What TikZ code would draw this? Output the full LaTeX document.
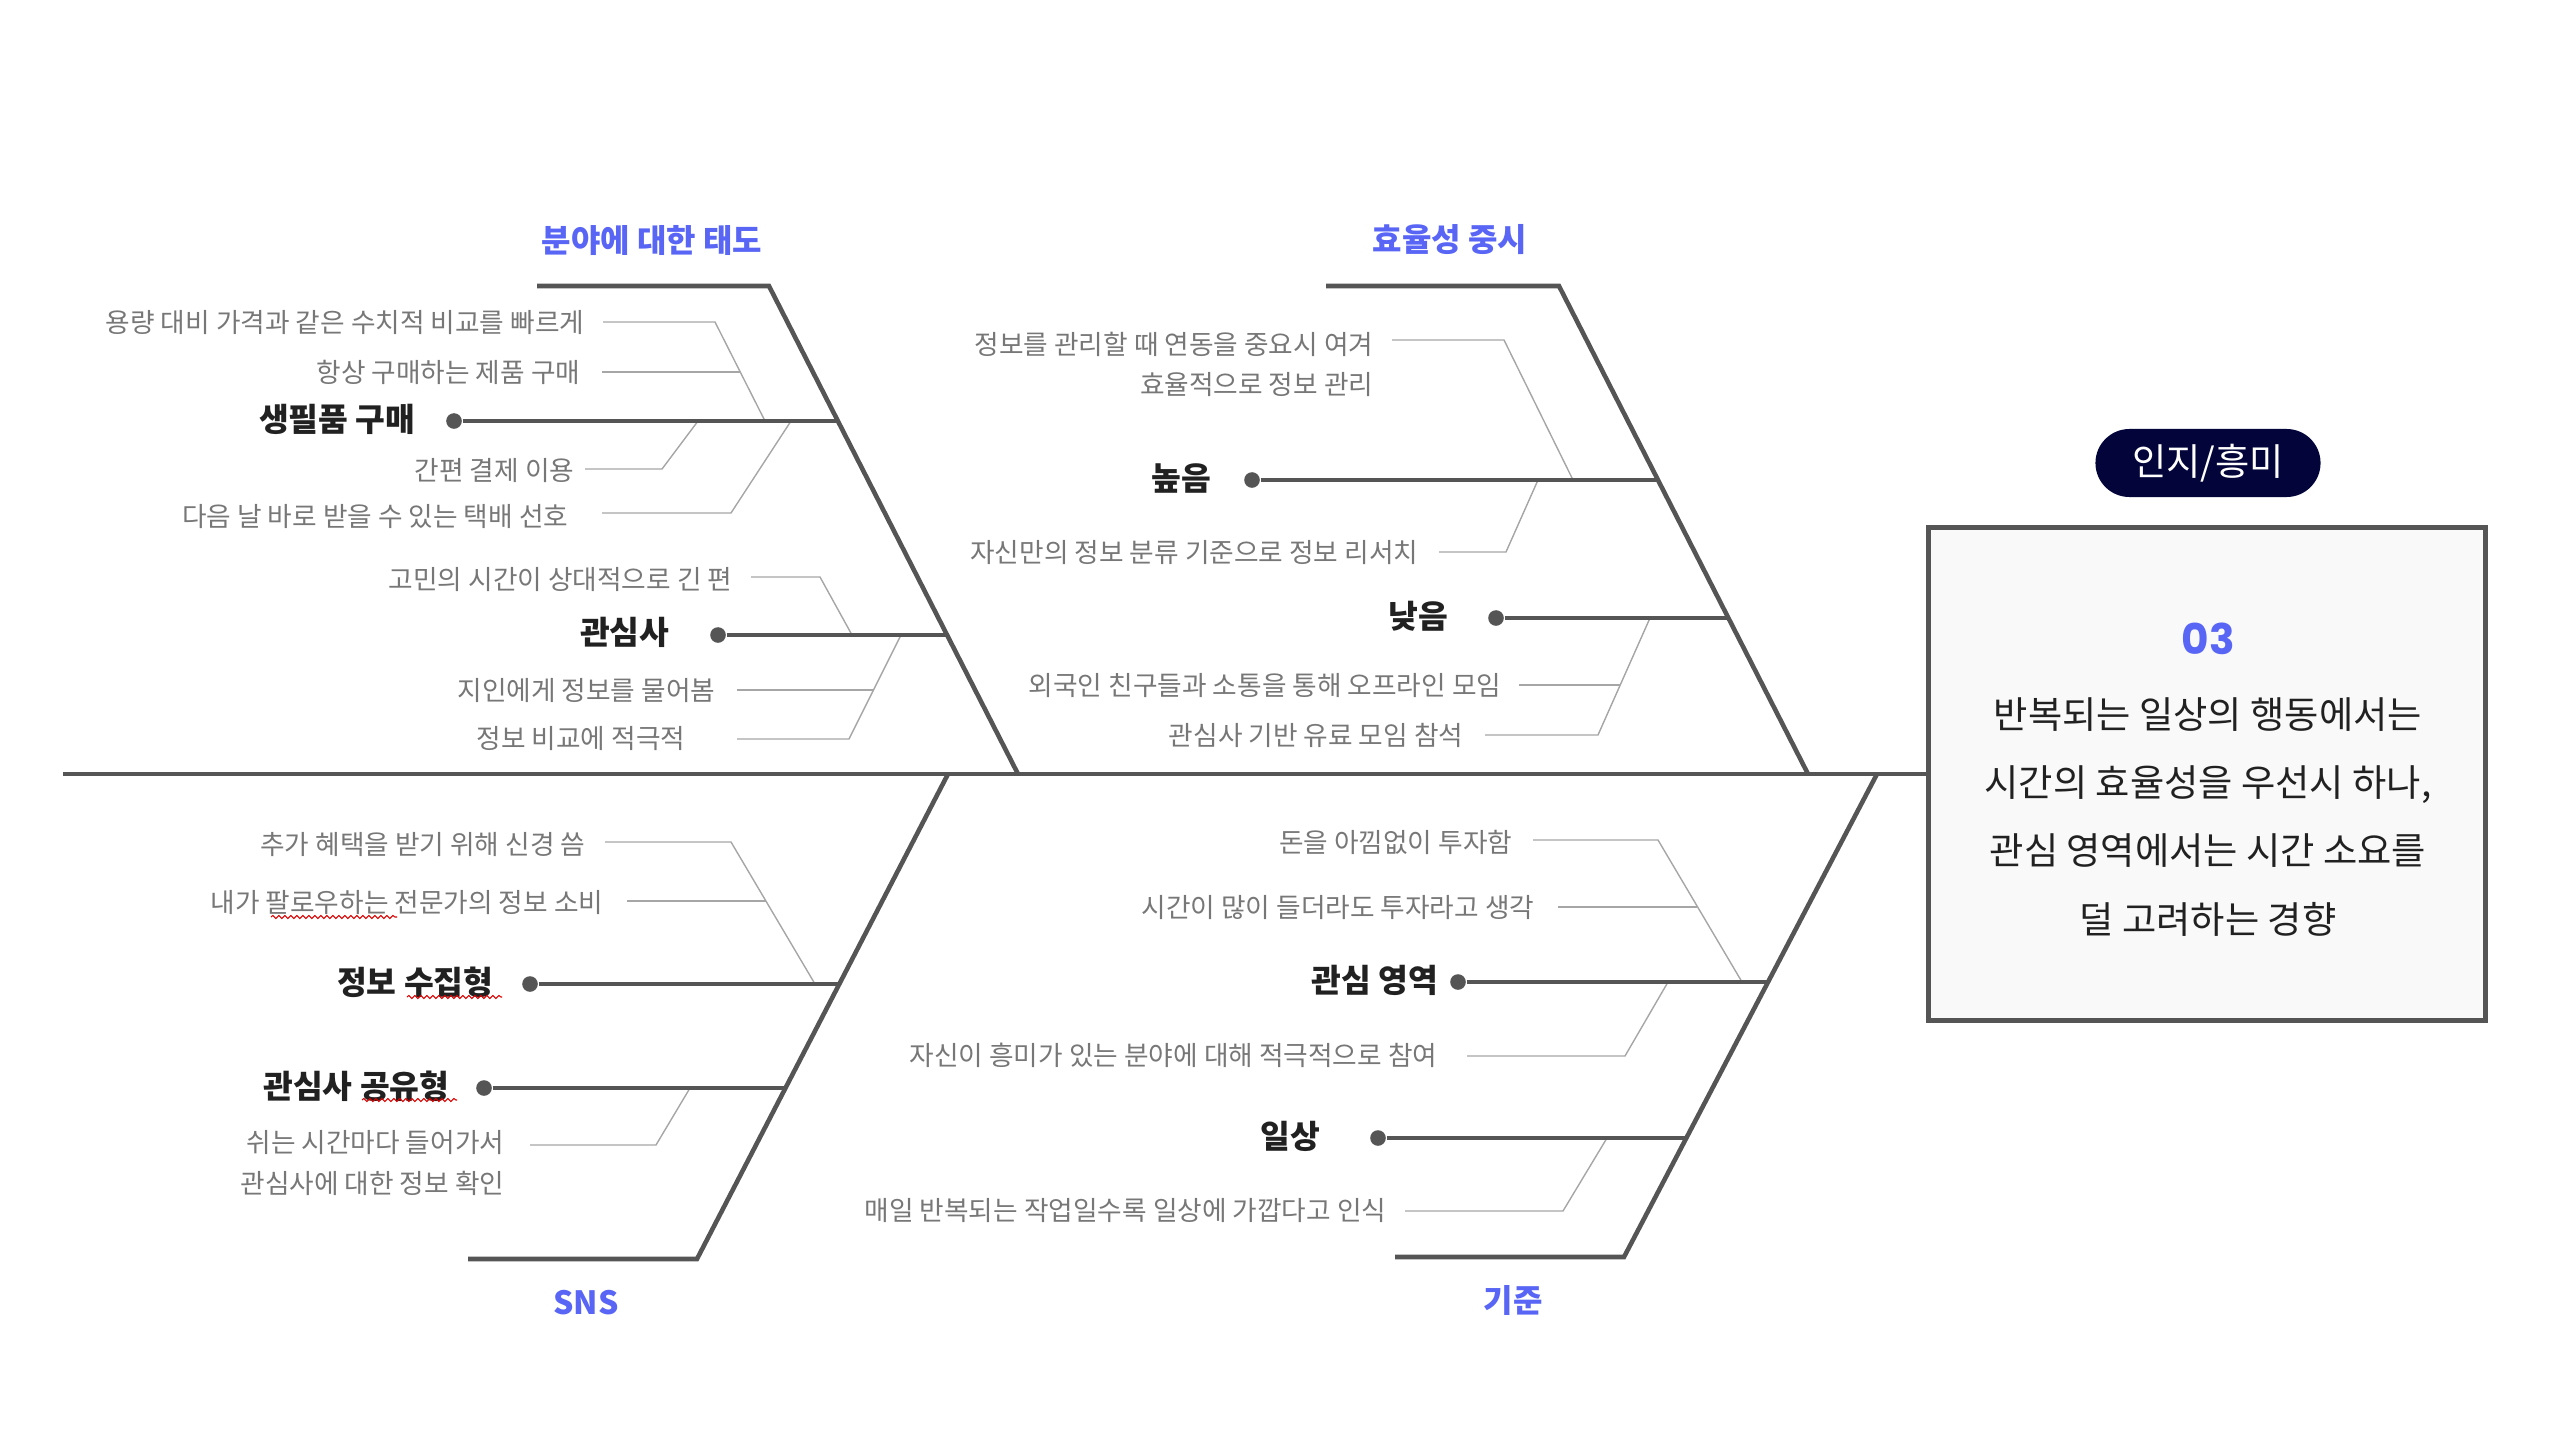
\documentclass[tikz,border=0pt]{standalone}
\usepackage{fontspec}
\setmainfont{Noto Sans CJK KR}
\newfontfamily\numfont{Poppins}
\usetikzlibrary{positioning,decorations.pathmorphing}
\definecolor{bonegray}{HTML}{555555}
\definecolor{leafgray}{HTML}{777777}
\definecolor{leadgray}{HTML}{A6A6A6}
\definecolor{headblue}{HTML}{5865F5}
\definecolor{badgenavy}{HTML}{03053A}
\definecolor{boxfill}{HTML}{F9F9F9}
\begin{document}
\begin{tikzpicture}[x=0.01cm, y=-0.01cm,
    bone/.style = {draw=bonegray, line width=1.3pt},
    leader/.style = {draw=leadgray, line width=0.4pt},
    leaf/.style = {inner sep=0, anchor=east, align=right, text=leafgray, font=\fontsize{7.6}{11.4}\selectfont},
    cause/.style = {inner sep=0, anchor=east, text=black!87, font=\fontsize{9.2}{11}\selectfont\bfseries},
    head/.style = {inner sep=0, text=headblue, font=\fontsize{9.1}{11}\selectfont\bfseries},
    dot/.style = {circle, fill=bonegray, inner sep=0, minimum size=1.56mm},
    squiggle/.style = {draw=red!85!black, line width=0.3pt, decorate, decoration={snake, segment length=0.6mm, amplitude=0.15mm}}]
\useasboundingbox (0,0) rectangle (2550,1430);

\node[draw=bonegray, line width=1.4pt, fill=boxfill, minimum width=5.57cm, minimum height=4.92cm] (summary) at (2207,774) {};
\node[fill=badgenavy, text=white, rounded corners=3.4mm, minimum width=2.25cm, minimum height=6.8mm, font=\fontsize{10.6}{13}\selectfont] (stage) at (2208,463) {인지/흥미};
\node[text=headblue, inner sep=0, font=\numfont\fontsize{12}{14}\selectfont\bfseries] (num) at (2208,639) {03};
\node[align=center, inner sep=0, text=black!87, font=\fontsize{10.6}{19.35}\selectfont] (note) at (2208,817) {반복되는 일상의 행동에서는\\시간의 효율성을 우선시 하나,\\관심 영역에서는 시간 소요를\\덜 고려하는 경향};

\coordinate (tail) at (63,774);
\draw[bone] (tail) -- (summary.west);

\coordinate (attTop) at (537,286); \coordinate (attBend) at (769,286); \coordinate (attFoot) at (1018,774);
\coordinate (effTop) at (1326,286); \coordinate (effBend) at (1559,286); \coordinate (effFoot) at (1808,774);
\coordinate (snsFoot) at (948,774); \coordinate (snsBend) at (697,1259); \coordinate (snsEnd) at (468,1259);
\coordinate (stdFoot) at (1877,774); \coordinate (stdBend) at (1624,1257); \coordinate (stdEnd) at (1395,1257);
\node[head] (attTitle) at (652,240) {분야에 대한 태도};
\node[head] (effTitle) at (1450,240) {효율성 중시};
\node[head] (snsTitle) at (586,1303) {SNS};
\node[head] (stdTitle) at (1513,1300) {기준};

\node[dot] (buyDot) at (454,421) {};
\node[cause] (buy) at (416,419) {생필품 구매};
\node[leaf] (buyA) at (585,323) {용량 대비 가격과 같은 수치적 비교를 빠르게};
\node[leaf] (buyB) at (581,372) {항상 구매하는 제품 구매};
\node[leaf] (buyC) at (575,470) {간편 결제 이용};
\node[leaf] (buyD) at (569,516) {다음 날 바로 받을 수 있는 택배 선호};
\coordinate (buyJoint) at (838,421);
\coordinate (buyA1) at (603,322); \coordinate (buyA2) at (715,322); \coordinate (buyA3) at (765,421);
\coordinate (buyB1) at (602,372); \coordinate (buyB2) at (740,372);
\coordinate (buyC1) at (585,469); \coordinate (buyC2) at (662,469); \coordinate (buyC3) at (698,421);
\coordinate (buyD1) at (602,513); \coordinate (buyD2) at (731,513); \coordinate (buyD3) at (791,421);
\draw[leader] (buyA1) -- (buyA2) -- (buyA3);
\draw[leader] (buyB1) -- (buyB2);
\draw[leader] (buyC1) -- (buyC2) -- (buyC3);
\draw[leader] (buyD1) -- (buyD2) -- (buyD3);
\draw[bone] (buyDot) -- (buyJoint);

\node[dot] (hobDot) at (718,635) {};
\node[cause] (hob) at (670,632) {관심사};
\node[leaf] (hobA) at (733,579) {고민의 시간이 상대적으로 긴 편};
\node[leaf] (hobB) at (716,690) {지인에게 정보를 물어봄};
\node[leaf] (hobC) at (686,739) {정보 비교에 적극적};
\coordinate (hobJoint) at (947,635);
\coordinate (hobA1) at (751,577); \coordinate (hobA2) at (820,577); \coordinate (hobA3) at (852,635);
\coordinate (hobB1) at (737,690); \coordinate (hobB2) at (873,690);
\coordinate (hobC1) at (737,739); \coordinate (hobC2) at (849,739); \coordinate (hobC3) at (901,635);
\draw[leader] (hobA1) -- (hobA2) -- (hobA3);
\draw[leader] (hobB1) -- (hobB2);
\draw[leader] (hobC1) -- (hobC2) -- (hobC3);
\draw[bone] (hobDot) -- (hobJoint);

\node[dot] (highDot) at (1252,480) {};
\node[cause] (high) at (1212,478) {높음};
\node[leaf] (highA) at (1374,364) {정보를 관리할 때 연동을 중요시 여겨\\효율적으로 정보 관리};
\node[leaf] (highB) at (1419,552) {자신만의 정보 분류 기준으로 정보 리서치};
\coordinate (highJoint) at (1658,480);
\coordinate (highA1) at (1392,340); \coordinate (highA2) at (1504,340); \coordinate (highA3) at (1573,480);
\coordinate (highB1) at (1439,552); \coordinate (highB2) at (1506,552); \coordinate (highB3) at (1538,480);
\draw[leader] (highA1) -- (highA2) -- (highA3);
\draw[leader] (highB1) -- (highB2) -- (highB3);
\draw[bone] (highDot) -- (highJoint);

\node[dot] (lowDot) at (1496,618) {};
\node[cause] (low) at (1449,616) {낮음};
\node[leaf] (lowA) at (1502,685) {외국인 친구들과 소통을 통해 오프라인 모임};
\node[leaf] (lowB) at (1464,735) {관심사 기반 유료 모임 참석};
\coordinate (lowJoint) at (1728,618);
\coordinate (lowA1) at (1519,685); \coordinate (lowA2) at (1620,685);
\coordinate (lowB1) at (1485,735); \coordinate (lowB2) at (1598,735); \coordinate (lowB3) at (1650,618);
\draw[leader] (lowA1) -- (lowA2);
\draw[leader] (lowB1) -- (lowB2) -- (lowB3);
\draw[bone] (lowDot) -- (lowJoint);

\node[dot] (colDot) at (530,984) {};
\node[cause] (col) at (494,982) {정보 수집형};
\node[leaf] (colA) at (586,844) {추가 혜택을 받기 위해 신경 씀};
\node[leaf] (colB) at (604,902) {내가 팔로우하는 전문가의 정보 소비};
\coordinate (colJoint) at (839,984);
\coordinate (colA1) at (605,842); \coordinate (colA2) at (731,842); \coordinate (colA3) at (815,984);
\coordinate (colB1) at (627,901); \coordinate (colB2) at (766,901);
\draw[leader] (colA1) -- (colA2) -- (colA3);
\draw[leader] (colB1) -- (colB2);
\draw[bone] (colDot) -- (colJoint);

\node[dot] (shrDot) at (484,1088) {};
\node[cause] (shr) at (450,1086) {관심사 공유형};
\node[leaf] (shrA) at (505,1163) {쉬는 시간마다 들어가서\\관심사에 대한 정보 확인};
\coordinate (shrJoint) at (786,1088);
\coordinate (shrA1) at (530,1145); \coordinate (shrA2) at (656,1145); \coordinate (shrA3) at (690,1088);
\draw[leader] (shrA1) -- (shrA2) -- (shrA3);
\draw[bone] (shrDot) -- (shrJoint);

\node[dot] (areaDot) at (1458,982) {};
\node[cause] (area) at (1439,980) {관심 영역};
\node[leaf] (areaA) at (1513,842) {돈을 아낌없이 투자함};
\node[leaf] (areaB) at (1535,907) {시간이 많이 들더라도 투자라고 생각};
\node[leaf] (areaC) at (1438,1055) {자신이 흥미가 있는 분야에 대해 적극적으로 참여};
\coordinate (areaJoint) at (1768,982);
\coordinate (areaA1) at (1533,840); \coordinate (areaA2) at (1658,840); \coordinate (areaA3) at (1742,982);
\coordinate (areaB1) at (1558,907); \coordinate (areaB2) at (1697,907);
\coordinate (areaC1) at (1467,1056); \coordinate (areaC2) at (1625,1056); \coordinate (areaC3) at (1668,982);
\draw[leader] (areaA1) -- (areaA2) -- (areaA3);
\draw[leader] (areaB1) -- (areaB2);
\draw[leader] (areaC1) -- (areaC2) -- (areaC3);
\draw[bone] (areaDot) -- (areaJoint);

\node[dot] (dayDot) at (1378,1138) {};
\node[cause] (day) at (1321,1136) {일상};
\node[leaf] (dayA) at (1387,1210) {매일 반복되는 작업일수록 일상에 가깝다고 인식};
\coordinate (dayJoint) at (1686,1138);
\coordinate (dayA1) at (1405,1211); \coordinate (dayA2) at (1563,1211); \coordinate (dayA3) at (1607,1138);
\draw[leader] (dayA1) -- (dayA2) -- (dayA3);
\draw[bone] (dayDot) -- (dayJoint);

\draw[bone] (attTop) -- (attBend) -- (attFoot);
\draw[bone] (effTop) -- (effBend) -- (effFoot);
\draw[bone] (snsFoot) -- (snsBend) -- (snsEnd);
\draw[bone] (stdFoot) -- (stdBend) -- (stdEnd);

\coordinate (wavA1) at (271,917); \coordinate (wavA2) at (397,917);
\coordinate (wavB1) at (407,997); \coordinate (wavB2) at (502,997);
\coordinate (wavC1) at (362,1100); \coordinate (wavC2) at (457,1100);
\draw[squiggle] (wavA1) -- (wavA2);
\draw[squiggle] (wavB1) -- (wavB2);
\draw[squiggle] (wavC1) -- (wavC2);
\end{tikzpicture}
\end{document}
